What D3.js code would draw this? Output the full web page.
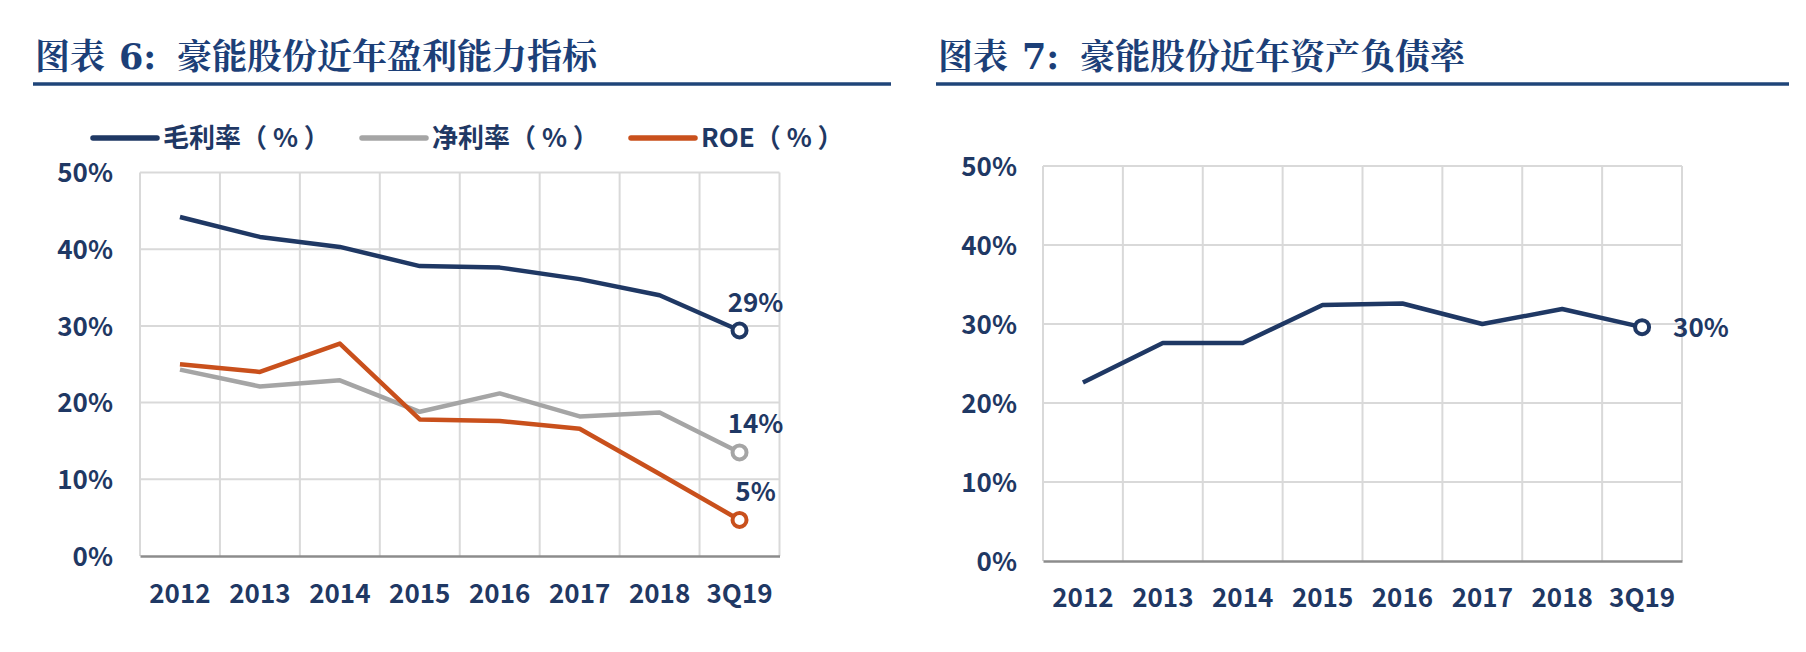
<!DOCTYPE html>
<html>
<head>
<meta charset="utf-8">
<script src="https://cdn.jsdelivr.net/npm/d3@7"></script>
<style>
  body { margin: 0; background: #fff; }
  svg { display: block; }
  .tick-label { font-family: "Noto Sans CJK KR", "Noto Sans CJK SC", sans-serif; font-weight: 700; fill: #1F3864; white-space: pre; }
</style>
</head>
<body>
<div id="chart"></div>
<script>
// categories and series
var years = ["2012", "2013", "2014", "2015", "2016", "2017", "2018", "3Q19"];
var grossMargin = [44.2, 41.6, 40.3, 37.8, 37.6, 36.1, 34.0, 29.4];
var netMargin = [24.3, 22.1, 22.9, 18.8, 21.2, 18.2, 18.7, 13.5];
var roe = [25.0, 24.0, 27.7, 17.8, 17.6, 16.6, 10.7, 4.7];
var debtRatio = [22.6, 27.6, 27.6, 32.4, 32.6, 30.0, 31.9, 29.6];
var yTicks = [0, 10, 20, 30, 40, 50];

var navy = "#1F3864", grey = "#A5A5A5", orange = "#C9501C";

var svg = d3.select("#chart").append("svg")
  .attr("width", 1806)
  .attr("height", 652);

// titles with the blue rule underneath
function drawTitle(x, num, text, ruleEnd) {
  var g = svg.append("g")
    .style("font-family", '"Noto Serif CJK SC", "Noto Sans CJK SC", serif')
    .style("font-weight", 700)
    .style("font-size", "35px")
    .attr("fill", "#1C3F78");
  g.append("text").attr("x", x).attr("y", 69).text("图表");
  g.append("text").attr("x", x + 84).attr("y", 69).style("font-family", '"DejaVu Serif", serif').text(num + ":");
  g.append("text").attr("x", x + 142).attr("y", 69).text(text);
  svg.append("line")
    .attr("x1", x - 2).attr("x2", ruleEnd)
    .attr("y1", 84).attr("y2", 84)
    .attr("stroke", "#1F4579")
    .attr("stroke-width", 3.5);
}

drawTitle(35, "6", "豪能股份近年盈利能力指标", 891);
drawTitle(938, "7", "豪能股份近年资产负债率", 1789);

function drawChart(opt) {
  var x = d3.scaleBand().domain(years).range([opt.left, opt.right]).padding(0);
  var y = d3.scaleLinear().domain([0, 50]).range([opt.bottom, opt.top]);

  var g = svg.append("g");

  // horizontal grid
  g.selectAll(".hgrid")
    .data(yTicks.filter(d => d > 0))
    .enter().append("line")
    .attr("x1", opt.left).attr("x2", opt.right)
    .attr("y1", d => y(d)).attr("y2", d => y(d))
    .attr("stroke", "#D9D9D9").attr("stroke-width", 2);

  // vertical grid at band edges
  var edges = years.map(d => x(d)).concat([opt.right]);
  g.selectAll(".vgrid")
    .data(edges)
    .enter().append("line")
    .attr("x1", d => d).attr("x2", d => d)
    .attr("y1", opt.top).attr("y2", opt.bottom)
    .attr("stroke", "#D9D9D9").attr("stroke-width", 2);

  // y axis labels
  var yAxis = d3.axisLeft(y).tickValues(yTicks).tickFormat(d => d + "%").tickSize(0).tickPadding(opt.yPad);
  var ya = g.append("g").attr("transform", `translate(${opt.left},0)`).call(yAxis);
  ya.select(".domain").remove();
  ya.selectAll("text").attr("class", "tick-label").style("font-size", "26px").attr("dy", "0.36em");

  // x axis
  var xAxis = d3.axisBottom(x).tickSize(0).tickPadding(0);
  var xa = g.append("g").attr("transform", `translate(0,${opt.bottom})`).call(xAxis);
  xa.select(".domain").attr("stroke", "#8C8C8C").attr("stroke-width", 2.5);
  xa.selectAll("text").attr("class", "tick-label").style("font-size", "26px")
    .attr("y", opt.xLabelY - opt.bottom).attr("dy", "0.36em");

  var line = d3.line().x((d, i) => x(years[i]) + x.bandwidth() / 2).y(d => y(d));

  opt.series.forEach(function(s) {
    g.append("path")
      .datum(s.values)
      .attr("fill", "none")
      .attr("stroke", s.color)
      .attr("stroke-width", 4.5)
      .attr("stroke-linejoin", "round")
      .attr("d", line);

    var last = s.values.length - 1;
    var cx = x(years[last]) + x.bandwidth() / 2, cy = y(s.values[last]);
    g.append("circle")
      .attr("cx", cx).attr("cy", cy).attr("r", 7)
      .attr("fill", "#fff").attr("stroke", s.color).attr("stroke-width", 4);

    var lbl = g.append("text")
      .attr("class", "tick-label")
      .style("font-size", "26px")
      .text(Math.round(s.values[last]) + "%");
    if (opt.labelRight) {
      lbl.attr("x", cx + 31).attr("y", cy).attr("dy", "0.36em");
    } else {
      lbl.attr("x", cx + 16).attr("y", cy - 19).attr("text-anchor", "middle");
    }
  });

  // legend
  if (opt.legend) {
    var lg = g.append("g");
    opt.legend.forEach(function(l) {
      lg.append("line")
        .attr("x1", l.x).attr("x2", l.x + 64)
        .attr("y1", 138).attr("y2", 138)
        .attr("stroke", l.color).attr("stroke-width", 5.5).attr("stroke-linecap", "round");
      lg.append("text")
        .attr("class", "tick-label")
        .style("font-size", "26px")
        .attr("x", l.x + 70).attr("y", 138).attr("dy", "0.36em")
        .text(l.name);
    });
  }
}

drawChart({
  left: 140, right: 779.5, top: 172.5, bottom: 556,
  xLabelY: 594, yPad: 27,
  series: [
    { values: grossMargin, color: navy },
    { values: netMargin, color: grey },
    { values: roe, color: orange }
  ],
  legend: [
    { name: "毛利率（ % ）", color: navy, x: 93 },
    { name: "净利率（ % ）", color: grey, x: 362 },
    { name: "ROE（ % ）", color: orange, x: 631 }
  ]
});

drawChart({
  left: 1043, right: 1682, top: 166, bottom: 561,
  xLabelY: 598, yPad: 26, labelRight: true,
  series: [
    { values: debtRatio, color: navy }
  ]
});
</script>
</body>
</html>
